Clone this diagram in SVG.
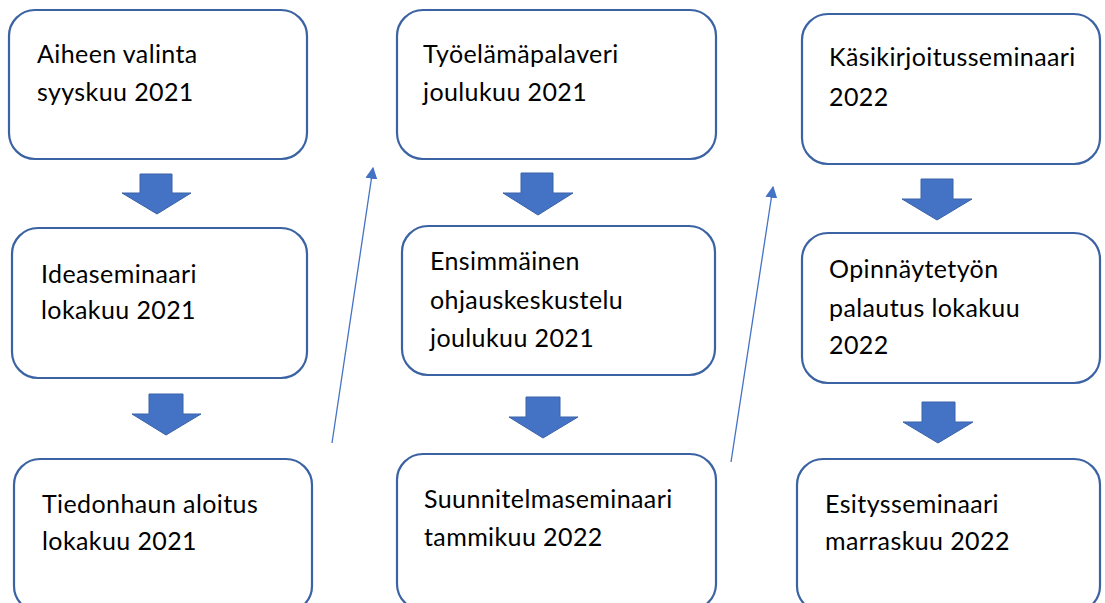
<svg xmlns="http://www.w3.org/2000/svg" width="1105" height="603" viewBox="0 0 1105 603">
<style>
.box{fill:#fff;stroke:#3B63A3;stroke-width:2.2}
.t{font-family:Lato,"Liberation Sans",sans-serif;font-size:25px;letter-spacing:0.4px;fill:#000}
.blk{fill:#4472C4;stroke:#3A62A8;stroke-width:1}
.thin{stroke:#4472C4;stroke-width:1.3;fill:none}
</style>
<defs>
<marker id="ah" viewBox="0 0 10 10" refX="9" refY="5" markerWidth="12" markerHeight="12" markerUnits="userSpaceOnUse" orient="auto"><path d="M0,0 L10,5 L0,10 z" fill="#4472C4"/></marker>
</defs>
<rect width="1105" height="603" fill="#fff"/>
<g id="n1"><rect class="box" x="9" y="10" width="298" height="149" rx="26"/><text class="t" x="37" y="63">Aiheen valinta</text><text class="t" x="37" y="101">syyskuu 2021</text></g>
<g id="n2"><rect class="box" x="12" y="228" width="295" height="150" rx="26"/><text class="t" x="41" y="283">Ideaseminaari</text><text class="t" x="41" y="319">lokakuu 2021</text></g>
<g id="n3"><rect class="box" x="14" y="459" width="298" height="153" rx="26"/><text class="t" x="42" y="513">Tiedonhaun aloitus</text><text class="t" x="42" y="550">lokakuu 2021</text></g>
<g id="n4"><rect class="box" x="397" y="10" width="319" height="149" rx="26"/><text class="t" x="423" y="63">Työelämäpalaveri</text><text class="t" x="423" y="101">joulukuu 2021</text></g>
<g id="n5"><rect class="box" x="402" y="226" width="313" height="149" rx="26"/><text class="t" x="430" y="270">Ensimmäinen</text><text class="t" x="430" y="309">ohjauskeskustelu</text><text class="t" x="430" y="347">joulukuu 2021</text></g>
<g id="n6"><rect class="box" x="397" y="454" width="319" height="156" rx="26"/><text class="t" x="424" y="508">Suunnitelmaseminaari</text><text class="t" x="424" y="546">tammikuu 2022</text></g>
<g id="n7"><rect class="box" x="802" y="14" width="298" height="150" rx="26"/><text class="t" x="829" y="66">Käsikirjoitusseminaari</text><text class="t" x="829" y="106">2022</text></g>
<g id="n8"><rect class="box" x="802" y="233" width="298" height="150" rx="26"/><text class="t" x="829" y="278">Opinnäytetyön</text><text class="t" x="829" y="317">palautus lokakuu</text><text class="t" x="829" y="354">2022</text></g>
<g id="n9"><rect class="box" x="797" y="459" width="303" height="153" rx="26"/><text class="t" x="825" y="513">Esitysseminaari</text><text class="t" x="825" y="550">marraskuu 2022</text></g>
<g id="connectors">
<path class="blk" d="M140,174 H172 V193 H191 L157,214 L122,193 H140 Z"/>
<path class="blk" d="M149,394 H183 V414 H201 L166,435 L132,414 H149 Z"/>
<path class="blk" d="M521,173 H553 V193 H573 L538,215 L503,193 H521 Z"/>
<path class="blk" d="M526,397 H560 V417 H578 L543,438 L509,417 H526 Z"/>
<path class="blk" d="M921,179 H953 V199 H972 L937,220 L902,199 H921 Z"/>
<path class="blk" d="M922,402 H955 V422 H973 L938,443 L903,422 H922 Z"/>
<line class="thin" x1="332" y1="443" x2="373" y2="168" marker-end="url(#ah)"/>
<line class="thin" x1="731" y1="462" x2="773" y2="187" marker-end="url(#ah)"/>
</g>
</svg>
